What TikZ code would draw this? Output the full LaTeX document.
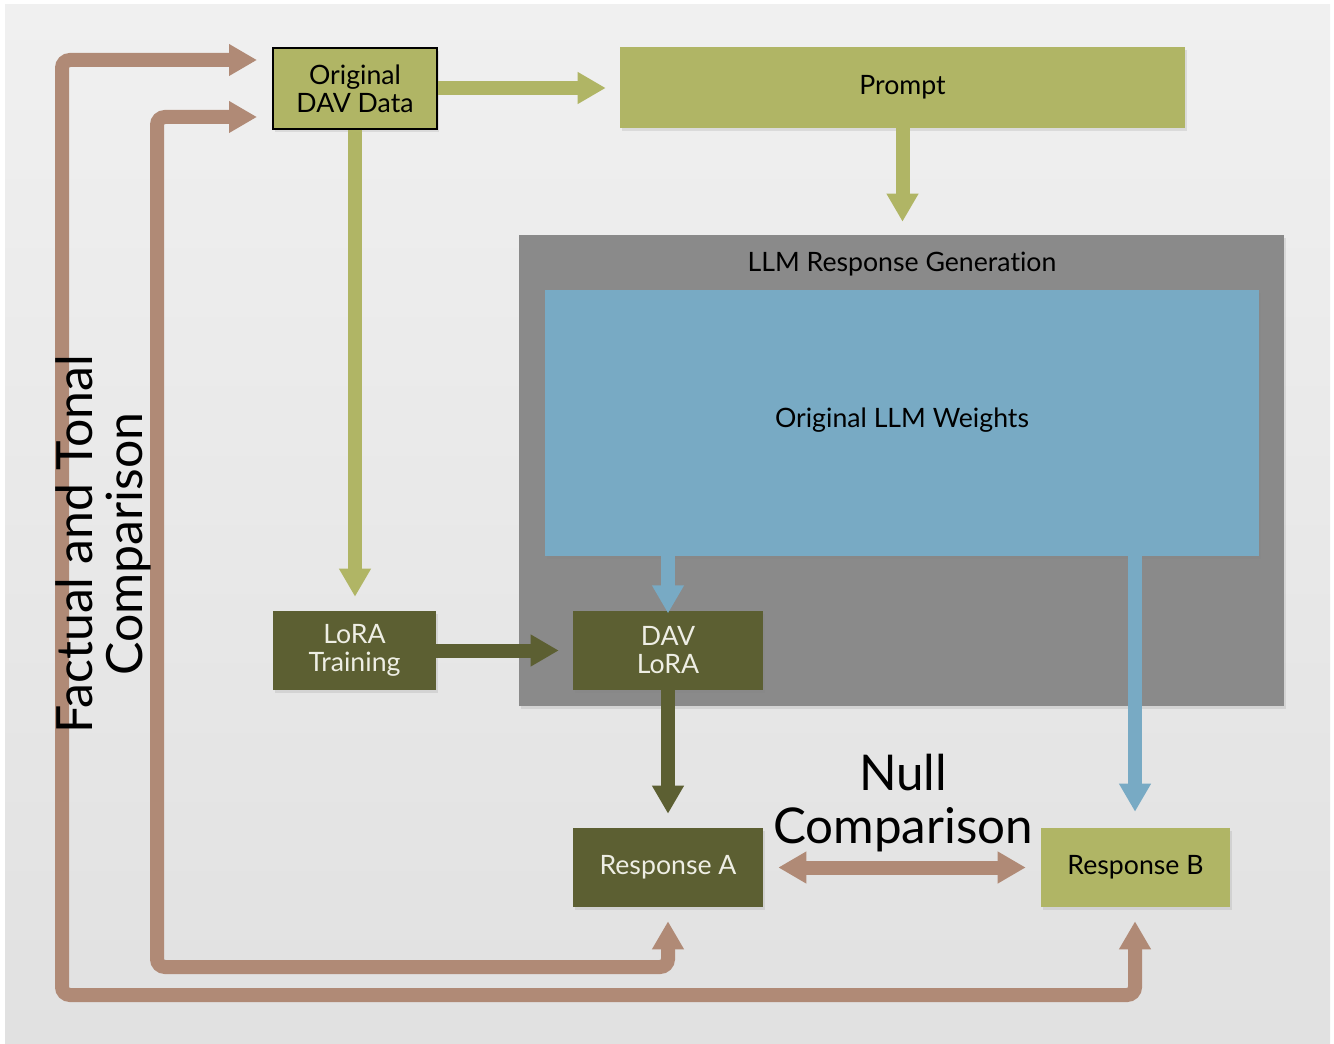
\documentclass[tikz,border=0pt]{standalone}
\usepackage{fontspec}
\setmainfont{Lato}[Ligatures={NoCommon,NoRare}]
\usetikzlibrary{arrows.meta,calc,shadows}
\definecolor{bgtop}{RGB}{240,240,240}
\definecolor{bgbot}{RGB}{225,225,225}
\definecolor{lightolive}{RGB}{176,181,101}
\definecolor{darkolive}{RGB}{92,95,50}
\definecolor{brownarr}{RGB}{176,138,118}
\definecolor{bluew}{RGB}{120,170,196}
\definecolor{graybox}{RGB}{138,138,138}
\definecolor{paletext}{RGB}{238,238,228}
\tikzset{
  box/.style={inner sep=0pt, align=center, font=\fontsize{20}{21}\selectfont,
    drop shadow={shadow xshift=1.5pt, shadow yshift=-2pt, opacity=0.18}},
  lightbox/.style={box, fill=lightolive, text=black},
  darkbox/.style={box, fill=darkolive, text=paletext},
  arr/.style={line width=10.5pt, -{Triangle[length=21pt,width=22.5pt]}},
  darr/.style={line width=10.5pt, {Triangle[length=21pt,width=22.5pt]}-{Triangle[length=21pt,width=22.5pt]}},
}
\begin{document}
\begin{tikzpicture}[x=0.75pt,y=-0.75pt]
\useasboundingbox (0,0) rectangle (1334,1044);
\fill[white] (0,0) rectangle (1334,1044);
\shade[top color=bgtop,bottom color=bgbot] (5,5) rectangle (1330,1044);

% containers
\node[box, fill=graybox, minimum width=573.75pt, minimum height=353.25pt] (llm) at (901.5,470.5) {};
\node[font=\fontsize{20}{21}\selectfont, text=black] (llmtitle) at (902,264) {LLM Response Generation};
\node[box, fill=bluew, minimum width=535.5pt, minimum height=199.5pt] (weights) at (902,423) {};
\node[font=\fontsize{20}{21}\selectfont, text=black] (wtext) at (902,420) {Original LLM Weights};

% boxes
\node[lightbox, draw=black, line width=1.5pt, minimum width=123pt, minimum height=60.75pt] (data) at (355,88.5) {Original\\DAV Data};
\node[lightbox, minimum width=423.75pt, minimum height=60.75pt] (prompt) at (902.5,87.5) {Prompt};
\node[darkbox, minimum width=122.25pt, minimum height=59.25pt] (lora) at (354.5,650.5) {LoRA\\Training};
\node[darkbox, minimum width=142.5pt, minimum height=59.25pt] (davlora) at (668,650.5) {DAV\\LoRA};
\node[darkbox, minimum width=142.5pt, minimum height=59.25pt] (respA) at (668,867.5) {Response A};
\node[lightbox, minimum width=141.75pt, minimum height=59.25pt] (respB) at (1135.5,867.5) {Response B};

% green arrows
\draw[arr, lightolive, shorten >=10.5pt] (data.east |- 0,88) -- (prompt.west |- 0,88);
\draw[arr, lightolive, shorten >=9.75pt] (prompt.south) -- (prompt.south |- llm.north);
\draw[arr, lightolive, shorten >=10.5pt] (data.south -| 355,0) -- (lora.north -| 355,0);

% dark olive arrows
\draw[arr, darkolive, shorten >=10.5pt] (lora.east) -- (davlora.west);
\draw[arr, darkolive, shorten >=10.5pt] (davlora.south) -- (respA.north);

% blue arrows
\draw[arr, bluew, shorten >=-2pt] (weights.south -| davlora.north) -- (davlora.north);
\draw[arr, bluew, shorten >=12pt] (weights.south -| 1135,0) -- (respB.north -| 1135,0);

% null comparison
\draw[darr, brownarr, shorten <=11.25pt, shorten >=11.25pt] (respA.east) -- (respB.west);

% brown feedback arrows
\coordinate (oc1) at (1135,995);
\coordinate (oc2) at (62,995);
\coordinate (oc3) at (62,60);
\coordinate (ot) at (257,60);
\coordinate (ic1) at (668,967);
\coordinate (ic2) at (157,967);
\coordinate (ic3) at (157,117);
\coordinate (it) at (257,117);
\draw[darr, brownarr, rounded corners=6pt] ($(respB.south -| oc1)+(0,14)$) -- (oc1) -- (oc2) -- (oc3) -- (ot);
\draw[darr, brownarr, rounded corners=6pt] ($(respA.south)+(0,14)$) -- (ic1) -- (ic2) -- (ic3) -- (it);

% labels
\node[align=center, font=\fontsize{37}{40}\selectfont] (null) at (903,803) {Null\\Comparison};
\node[align=center, rotate=90, font=\fontsize{37.5}{37.5}\selectfont] (fact) at (103,544) {Factual and Tonal\\Comparison};
\end{tikzpicture}
\end{document}
